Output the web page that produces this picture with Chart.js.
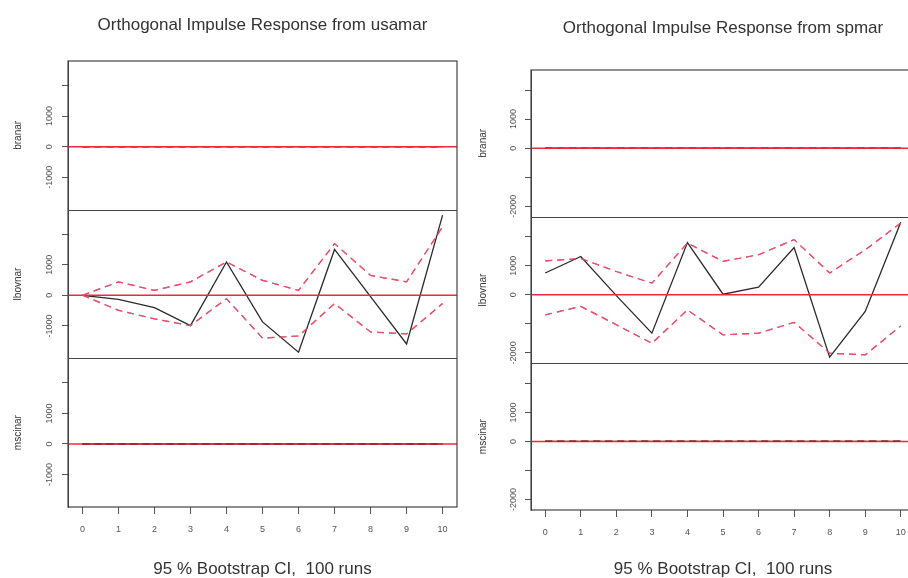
<!DOCTYPE html>
<html>
<head>
<meta charset="utf-8">
<script src="https://cdn.jsdelivr.net/npm/chart.js@4.4.1/dist/chart.umd.min.js"></script>
<style>
  html, body { margin: 0; padding: 0; background: #fff; width: 908px; height: 578px; overflow: hidden; position: relative; }
  canvas { position: absolute; top: 0; }
  #usaChart { left: 0; }
  #spChart { left: 460px; }
</style>
</head>
<body>
<canvas id="usaChart" width="460" height="578"></canvas>
<canvas id="spChart" width="460" height="578"></canvas>
<script>
/* ── DATA ── */
var steps      = [0, 1, 2, 3, 4, 5, 6, 7, 8, 9, 10];
var stepLabels = ['0', '1', '2', '3', '4', '5', '6', '7', '8', '9', '10'];
var varNames   = ['branar', 'lbovnar', 'mscinar'];

// impulse from usamar
var usaBranar       = [0, 0, 0, 0, 0, 0, 0, 0, 0, 0, 0];
var usaBranarLower  = [0, 0, 0, 0, 0, 0, 0, 0, 0, 0, 0];
var usaBranarUpper  = [0, 0, 0, 0, 0, 0, 0, 0, 0, 0, 0];
var usaLbovnar      = [0, -130, -400, -990, 1090, -870, -1860, 1500, -40, -1590, 2620];
var usaLbovnarLower = [0, -490, -770, -990, -110, -1400, -1330, -270, -1200, -1260, -270];
var usaLbovnarUpper = [0, 440, 160, 440, 1090, 490, 160, 1690, 650, 440, 2240];
var usaMscinar      = [0, 0, 0, 0, 0, 0, 0, 0, 0, 0, 0];
var usaMscinarLower = [0, 0, 0, 0, 0, 0, 0, 0, 0, 0, 0];
var usaMscinarUpper = [0, 0, 0, 0, 0, 0, 0, 0, 0, 0, 0];
var usaTicks        = [-1000, 0, 1000, 2000];
var usaTickLabels   = ['-1000', '0', '1000', ''];

// impulse from spmar
var spBranar        = [0, 0, 0, 0, 0, 0, 0, 0, 0, 0, 0];
var spBranarLower   = [0, 0, 0, 0, 0, 0, 0, 0, 0, 0, 0];
var spBranarUpper   = [0, 0, 0, 0, 0, 0, 0, 0, 0, 0, 0];
var spLbovnar       = [750, 1320, -30, -1320, 1800, 20, 260, 1630, -2150, -575, 2500];
var spLbovnarLower  = [-690, -400, -1030, -1670, -520, -1380, -1320, -950, -2010, -2070, -1070];
var spLbovnarUpper  = [1170, 1250, 800, 400, 1780, 1150, 1380, 1900, 750, 1550, 2470];
var spMscinar       = [0, 0, 0, 0, 0, 0, 0, 0, 0, 0, 0];
var spMscinarLower  = [0, 0, 0, 0, 0, 0, 0, 0, 0, 0, 0];
var spMscinarUpper  = [0, 0, 0, 0, 0, 0, 0, 0, 0, 0, 0];
var spTicks         = [-2000, -1000, 0, 1000, 2000];
var spTickLabels    = ['-2000', '', '0', '1000', ''];

var FONT = "'Liberation Sans', Arial, sans-serif";
var ZERO_RED = '#f0283c';

/* ── HELPERS ── */
function toPoints(vals) {
  return steps.map(function (s, i) { return { x: s, y: vals[i] }; });
}

// R order: response, red zero line, dashed CI on top; then box + dividers
var irfBoxPlugin = {
  id: 'irfBox',
  afterDatasetsDraw: function (chart) {
    var area = chart.chartArea;
    var ctx = chart.ctx;
    ctx.save();
    ctx.beginPath();
    ctx.rect(area.left, area.top, area.right - area.left, area.bottom - area.top);
    ctx.clip();
    ctx.strokeStyle = ZERO_RED;
    ctx.lineWidth = 1.5;
    for (var k = 0; k < varNames.length; k++) {
      var y = chart.scales['y' + k].getPixelForValue(0);
      ctx.beginPath();
      ctx.moveTo(area.left, y);
      ctx.lineTo(area.right, y);
      ctx.stroke();
    }
    chart.data.datasets.forEach(function (ds, i) {
      if (ds.isCI) chart.getDatasetMeta(i).dataset.draw(ctx, area);
    });
    ctx.restore();
  },
  afterDraw: function (chart) {
    var area = chart.chartArea;
    var ctx = chart.ctx;
    ctx.save();
    ctx.strokeStyle = '#444';
    ctx.lineWidth = 1.2;
    ctx.strokeRect(area.left, area.top, area.right - area.left, area.bottom - area.top);
    for (var k = 1; k < varNames.length; k++) {
      var top = Math.round(chart.scales['y' + k].top) + 0.5;
      ctx.beginPath();
      ctx.moveTo(area.left, top);
      ctx.lineTo(area.right, top);
      ctx.stroke();
    }
    ctx.restore();
  }
};

/* ── PANEL ── */
function buildPanel(canvasId, p) {
  var datasets = [];
  for (var k = 0; k < varNames.length; k++) {
    var set = p.series[k];
    datasets.push({
      label: varNames[k], data: toPoints(set[0]), yAxisID: 'y' + k,
      borderColor: '#2a2a2a', borderWidth: 1.3, pointRadius: 0, tension: 0, fill: false
    });
    datasets.push({
      label: varNames[k] + ' lower', data: toPoints(set[1]), yAxisID: 'y' + k, isCI: true,
      borderColor: p.ciColors[k], borderWidth: 1.2, borderDash: [7, 5], pointRadius: 0, tension: 0, fill: false
    });
    datasets.push({
      label: varNames[k] + ' upper', data: toPoints(set[2]), yAxisID: 'y' + k, isCI: true,
      borderColor: p.ciColors[k], borderWidth: 1.2, borderDash: [7, 5], pointRadius: 0, tension: 0, fill: false
    });
  }

  var scales = {
    x: {
      type: 'linear', min: -0.4, max: 10.4,
      afterBuildTicks: function (s) { s.ticks = steps.map(function (v) { return { value: v }; }); },
      afterFit: function (s) { s.height = p.xHeight; },
      ticks: {
        autoSkip: false, maxRotation: 0, padding: p.xTickPad, color: '#555',
        font: { family: FONT, size: 9 },
        callback: function (v, i) { return stepLabels[i]; }
      },
      grid: { drawOnChartArea: false, tickLength: 7, color: '#555' },
      border: { display: false },
      title: {
        display: true, text: '95 % Bootstrap CI,  100 runs', color: '#333',
        font: { family: FONT, size: 17, lineHeight: 1 },
        padding: { top: 0, bottom: p.subPad }
      }
    }
  };

  varNames.forEach(function (name, k) {
    scales['y' + k] = {
      type: 'linear', position: 'left', stack: 'irf', stackWeight: 1, weight: varNames.length - k,
      min: p.yMin, max: p.yMax,
      afterBuildTicks: function (s) { s.ticks = p.ticks.map(function (v) { return { value: v }; }); },
      afterFit: function (s) { s.width = p.yWidth; },
      ticks: {
        autoSkip: false, minRotation: 90, maxRotation: 90, crossAlign: 'center',
        padding: p.yTickPad, color: '#555', font: { family: FONT, size: 9 },
        callback: function (v, i) { return p.tickLabels[i]; }
      },
      grid: { drawOnChartArea: false, tickLength: 6, color: '#555' },
      border: { display: true, color: '#444', width: 1 },
      title: {
        display: true, text: name, color: '#333',
        font: { family: FONT, size: 10 },
        padding: { top: p.yTitlePad, bottom: 0 }
      }
    };
  });

  return new Chart(document.getElementById(canvasId), {
    type: 'line',
    data: { datasets: datasets },
    options: {
      responsive: false,
      animation: false,
      events: [],
      layout: { autoPadding: false, padding: { left: 0, right: p.padRight, top: 0, bottom: 0 } },
      plugins: {
        legend: { display: false },
        tooltip: { enabled: false },
        title: {
          display: true, fullSize: false, text: p.title, color: '#333',
          font: { family: FONT, size: 17, weight: 'normal', lineHeight: 1 },
          padding: { top: p.titleTop, bottom: p.titleBottom }
        }
      },
      scales: scales
    },
    plugins: [irfBoxPlugin]
  });
}

/* ── BOOT ── */
buildPanel('usaChart', {
  title: 'Orthogonal Impulse Response from usamar',
  series: [
    [usaBranar, usaBranarLower, usaBranarUpper],
    [usaLbovnar, usaLbovnarLower, usaLbovnarUpper],
    [usaMscinar, usaMscinarLower, usaMscinarUpper]
  ],
  ciColors: [ZERO_RED, '#e8506a', '#a0202e'],
  ticks: usaTicks, tickLabels: usaTickLabels,
  yMin: -2060, yMax: 2800,
  yWidth: 68, padRight: 3, xHeight: 71,
  titleTop: 16.5, titleBottom: 27.5,
  yTitlePad: 12, yTickPad: 1, xTickPad: 10, subPad: 0
});

buildPanel('spChart', {
  title: 'Orthogonal Impulse Response from spmar',
  series: [
    [spBranar, spBranarLower, spBranarUpper],
    [spLbovnar, spLbovnarLower, spLbovnarUpper],
    [spMscinar, spMscinarLower, spMscinarUpper]
  ],
  ciColors: [ZERO_RED, '#e8506a', '#a0202e'],
  ticks: spTicks, tickLabels: spTickLabels,
  yMin: -2360, yMax: 2690,
  yWidth: 71, padRight: 5, xHeight: 68,
  titleTop: 19.5, titleBottom: 33.5,
  yTitlePad: 17, yTickPad: 0, xTickPad: 10, subPad: 0
});
</script>
</body>
</html>
